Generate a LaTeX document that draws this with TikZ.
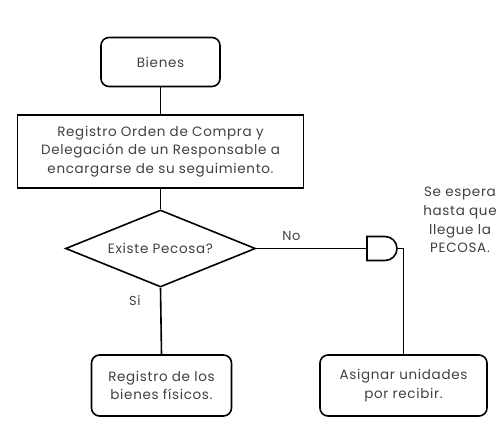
\documentclass[tikz,border=0pt]{standalone}
\usepackage{fontspec}
\setmainfont{Poppins}[LetterSpace=5]
\usetikzlibrary{positioning, shapes.geometric, shapes.gates.logic.US}

\tikzset{
  roundbox/.style={draw, rounded corners=8pt, align=center, inner sep=0pt},
  sharpbox/.style={draw, align=center, inner sep=0pt},
  question/.style={draw, diamond, aspect=2.5, inner sep=0pt},
  branch/.style={font=\fontsize{13}{15}\selectfont}
}

\begin{document}
\begin{tikzpicture}[x=1pt, y=-1pt, line width=1.6pt,
    font=\fontsize{13.5}{18.7}\selectfont, text=black!75]
  \useasboundingbox (0,0) rectangle (501,433);

  % Start
  \node[roundbox, minimum width=119pt, minimum height=49pt] (bienes) at (160.5, 62) {Bienes};

  % Purchase order
  \node[sharpbox, minimum width=286pt, minimum height=73pt] (orden) at (160.5, 151.5)
    {Registro Orden de Compra y\\Delegación de un Responsable a\\encargarse de su seguimiento.};

  % Decision
  \node[question, minimum width=190pt, minimum height=77pt] (pecosa) at (160.5, 248.5) {Existe Pecosa?};

  % Wait gate
  \node[and gate US, draw, logic gate inputs=nn, minimum width=28pt, minimum height=24pt, inner sep=0pt] (espera) at (381, 248.5) {};
  \node[align=center] (nota) at (460, 220)
    {Se espera\\hasta que\\llegue la\\PECOSA.};

  % Outcomes
  \node[roundbox, minimum width=140pt, minimum height=61pt] (fisicos) at (161.5, 385.5)
    {Registro de los\\bienes físicos.};
  \node[roundbox, minimum width=167pt, minimum height=61pt] (asignar) at (403.5, 385.5)
    {Asignar unidades\\por recibir.};

  \draw (bienes) -- (orden);
  \draw (orden) -- (pecosa);
  \draw (pecosa.east) -- node[branch, above=4pt, pos=0.32] {No} (espera.west);
  \draw (espera.east) -| (asignar.north);
  \draw (pecosa.south) -- node[branch, left=16pt, pos=0.2] {Si} (fisicos.north);
\end{tikzpicture}
\end{document}
